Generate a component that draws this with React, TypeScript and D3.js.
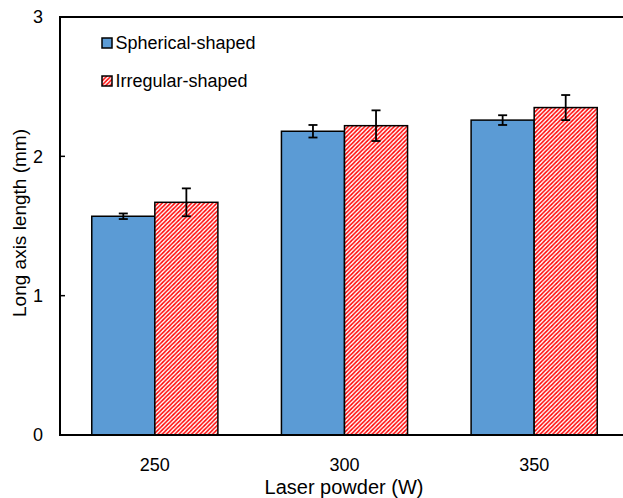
import React from "react";
import * as d3 from "d3";

const categories = ["250", "300", "350"];
const seriesNames = ["Spherical-shaped", "Irregular-shaped"];
const sphericalValues = [1.57, 2.18, 2.26];
const sphericalErrors = [0.02, 0.045, 0.035];
const irregularValues = [1.67, 2.22, 2.35];
const irregularErrors = [0.1, 0.11, 0.09];
const yTicks = [0, 1, 2, 3];

const W = 623;
const H = 498;
const margin = { left: 60, top: 17, right: -6, bottom: 63 };

export default function App() {
  const x0 = d3
    .scaleBand<string>()
    .domain(categories)
    .range([margin.left, W - margin.right])
    .paddingInner(0.335)
    .paddingOuter(0.1675);
  const x1 = d3.scaleBand<string>().domain(seriesNames).range([0, x0.bandwidth()]);
  const y = d3.scaleLinear().domain([0, 3]).range([H - margin.bottom, margin.top]);

  const series = [
    { name: seriesNames[0], values: sphericalValues, errors: sphericalErrors, fill: "#5B9BD5" },
    { name: seriesNames[1], values: irregularValues, errors: irregularErrors, fill: "url(#hatch)" },
  ];
  const font = "Liberation Sans, Arial, sans-serif";
  const y0 = y(0);

  return (
    <svg
      width={W}
      height={H}
      style={{ position: "absolute", left: 0, top: 0, background: "#fff" }}
      fontFamily={font}
    >
      <defs>
        <pattern id="hatch" patternUnits="userSpaceOnUse" width="4.2" height="4.2">
          <rect width="4.2" height="4.2" fill="#fff" />
          <path d="M-1,1 L1,-1 M0,4.2 L4.2,0 M3.2,5.2 L5.2,3.2" stroke="#FF0000" strokeWidth="1.5" />
        </pattern>
      </defs>
      {series.map((s) =>
        categories.map((c, i) => {
          const bx = (x0(c) as number) + (x1(s.name) as number);
          const bw = x1.bandwidth();
          const v = s.values[i];
          const e = s.errors[i];
          const cx = bx + bw / 2;
          return (
            <g key={s.name + c}>
              <rect
                x={bx}
                y={y(v)}
                width={bw}
                height={y0 - y(v)}
                fill={s.fill}
                stroke="#000"
                strokeWidth={1.5}
              />
              <line x1={cx} x2={cx} y1={y(v + e)} y2={y(v - e)} stroke="#000" strokeWidth={1.8} />
              <line x1={cx - 4.5} x2={cx + 4.5} y1={y(v + e)} y2={y(v + e)} stroke="#000" strokeWidth={1.8} />
              <line x1={cx - 4.5} x2={cx + 4.5} y1={y(v - e)} y2={y(v - e)} stroke="#000" strokeWidth={1.8} />
            </g>
          );
        })
      )}
      {/* axes */}
      <line x1={margin.left} x2={W} y1={y(3)} y2={y(3)} stroke="#000" strokeWidth={2} />
      <line x1={margin.left} x2={W} y1={y0} y2={y0} stroke="#000" strokeWidth={2} />
      <line x1={margin.left} x2={margin.left} y1={y(3) - 1} y2={y0 + 1} stroke="#000" strokeWidth={2} />
      {yTicks.map((t) => (
        <g key={t}>
          <line x1={margin.left} x2={margin.left + 5} y1={y(t)} y2={y(t)} stroke="#000" strokeWidth={1.5} />
          <text x={43} y={y(t)} dy="0.35em" textAnchor="end" fontSize={18} fill="#000">
            {t}
          </text>
        </g>
      ))}
      {categories.map((c) => (
        <text
          key={c}
          x={(x0(c) as number) + x0.bandwidth() / 2}
          y={465}
          dy="0.35em"
          textAnchor="middle"
          fontSize={18}
          fill="#000"
        >
          {c}
        </text>
      ))}
      <text x={344} y={487} dy="0.35em" textAnchor="middle" fontSize={20} fill="#000">
        Laser powder (W)
      </text>
      <text
        transform={`translate(19,223) rotate(-90)`}
        dy="0.35em"
        textAnchor="middle"
        fontSize={19}
        fill="#000"
      >
        Long axis length (mm)
      </text>
      {/* legend */}
      {series.map((s, i) => (
        <g key={s.name} transform={`translate(102,${43 + i * 38})`}>
          <rect x={0} y={-5} width={10} height={10} fill={s.fill} stroke="#000" strokeWidth={1.5} />
          <text x={13.5} y={0} dy="0.35em" fontSize={18} fill="#000">
            {s.name}
          </text>
        </g>
      ))}
    </svg>
  );
}
